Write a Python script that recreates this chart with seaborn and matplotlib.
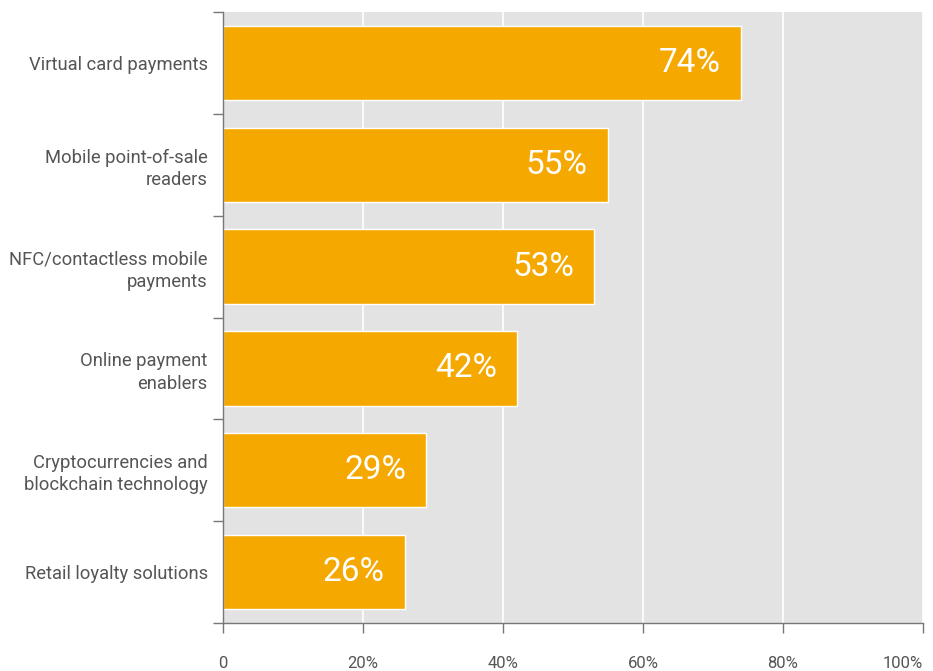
import matplotlib
matplotlib.use("Agg")
import matplotlib.pyplot as plt
import seaborn as sns
import pandas as pd
from matplotlib.ticker import FixedLocator

categories = [
    "Virtual card payments",
    "Mobile point-of-sale\nreaders",
    "NFC/contactless mobile\npayments",
    "Online payment\nenablers",
    "Cryptocurrencies and\nblockchain technology",
    "Retail loyalty solutions",
]
values = [74, 55, 53, 42, 29, 26]
x_ticks = [0, 20, 40, 60, 80, 100]
x_tick_labels = ["0", "20%", "40%", "60%", "80%", "100%"]

bar_color = "#F5A800"
bg_color = "#E3E3E3"
text_color = "#555555"

sns.set_theme(style="white")
plt.rcParams["font.family"] = ["Roboto", "DejaVu Sans"]

df = pd.DataFrame({"category": categories, "value": values})

fig = plt.figure(figsize=(9.33, 6.71), dpi=100)
ax = fig.add_axes([223 / 933, 48 / 671, 700 / 933, 611 / 671])
ax.set_facecolor(bg_color)

sns.barplot(data=df, x="value", y="category", orient="h", color=bar_color,
            width=0.73, saturation=1, ax=ax, zorder=2)

ax.set_xlim(0, 100)
ax.set_ylim(len(categories) - 0.5, -0.5)
ax.set_xlabel("")
ax.set_ylabel("")

ax.set_xticks(x_ticks)
ax.set_xticklabels(x_tick_labels, color=text_color, fontsize=12)
ax.get_xticklabels()[-1].set_horizontalalignment("right")
ax.tick_params(axis="x", length=7, width=1, color="#777777", pad=17, direction="out")
ax.xaxis.grid(True, color="white", linewidth=1.2, zorder=1)
ax.set_axisbelow(True)

ax.set_yticks(range(len(categories)))
ax.set_yticklabels(categories, color=text_color, fontsize=13.2, linespacing=1.3)
ax.tick_params(axis="y", which="major", length=0, pad=11)
ax.yaxis.set_minor_locator(FixedLocator([i - 0.5 for i in range(len(categories) + 1)]))
ax.tick_params(axis="y", which="minor", length=7, width=1, color="#777777", left=True)
ax.tick_params(axis="x", bottom=True)

for side in ["top", "right"]:
    ax.spines[side].set_visible(False)
for side in ["left", "bottom"]:
    ax.spines[side].set_visible(True)
    ax.spines[side].set_color("#777777")
    ax.spines[side].set_linewidth(1)

for i, v in enumerate(values):
    ax.annotate(f"{v}%", xy=(v, i), xytext=(-20, 0), textcoords="offset pixels",
                ha="right", va="center", color="white", fontsize=24, zorder=3)

fig.savefig("out.png", dpi=100, facecolor="white")
